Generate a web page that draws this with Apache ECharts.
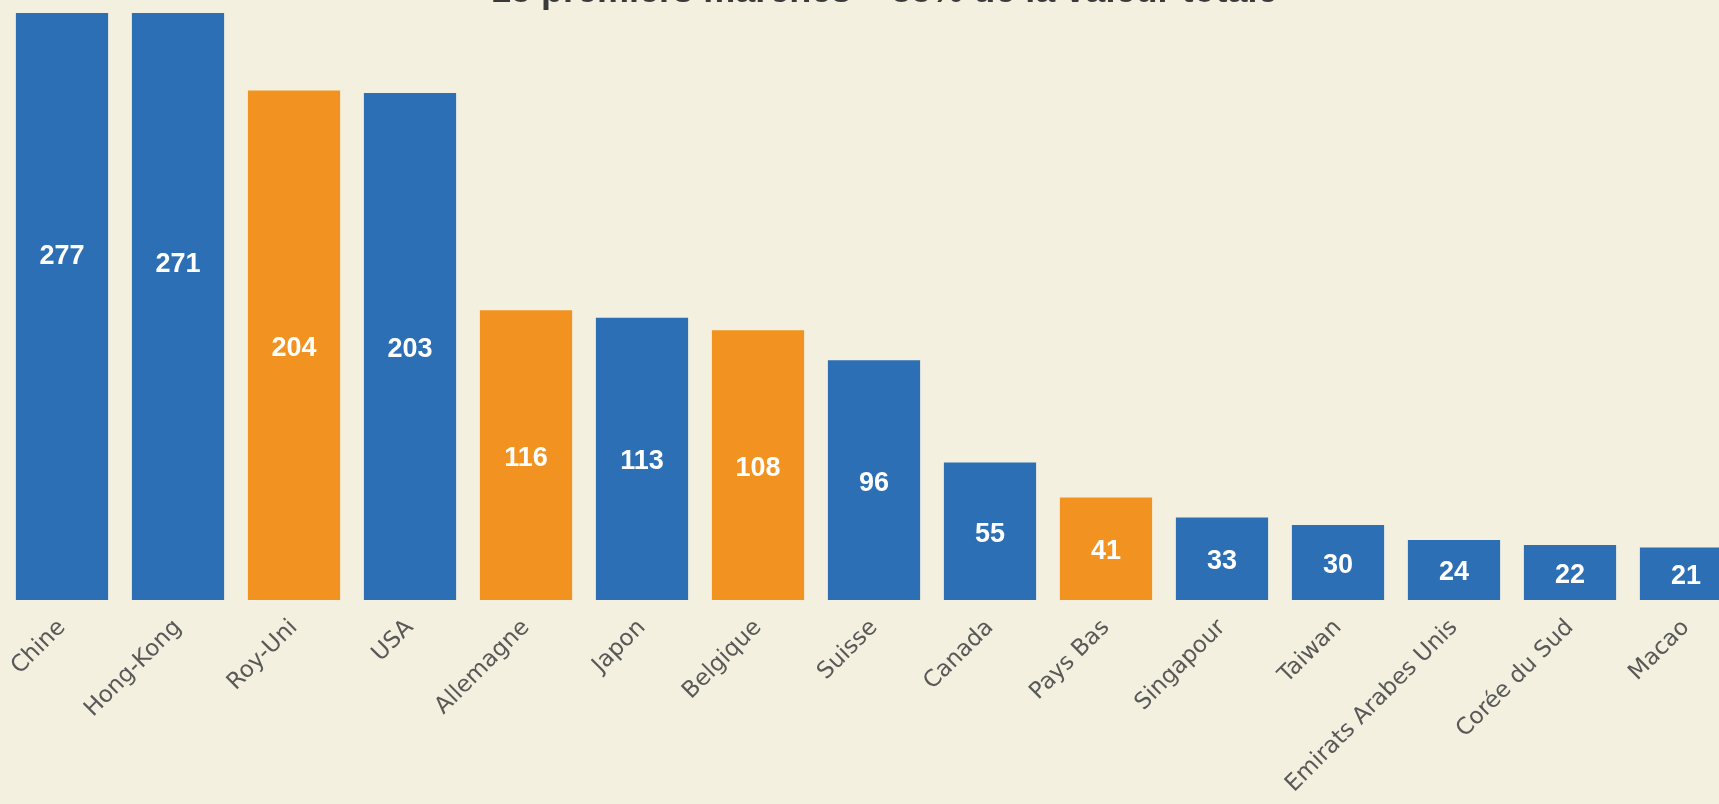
<!DOCTYPE html>
<html>
<head>
<meta charset="utf-8">
<title>15 premiers marchés</title>
<script src="https://cdn.jsdelivr.net/npm/echarts@6/dist/echarts.min.js"></script>
<style>
    html, body { margin: 0; padding: 0; background: #f3f0df; overflow: hidden; }
    #chart { width: 1719px; height: 804px; }
</style>
</head>
<body>
<div id="chart"></div>
<script>
var pays = ['Chine', 'Hong-Kong', 'Roy-Uni', 'USA', 'Allemagne', 'Japon', 'Belgique', 'Suisse', 'Canada', 'Pays Bas', 'Singapour', 'Taiwan', 'Emirats Arabes Unis', 'Corée du Sud', 'Macao'];
var valeurs = [277, 271, 204, 203, 116, 113, 108, 96, 55, 41, 33, 30, 24, 22, 21];
var paysEurope = ['Roy-Uni', 'Allemagne', 'Belgique', 'Pays Bas'];

var bleu = '#2c6fb5';
var orange = '#f29321';
var fond = '#f3f0df';

var myChart = echarts.init(document.getElementById('chart'));
var option = {
    backgroundColor: fond,
    animation: false,
    title: {
        text: '15 premiers marchés – 85% de la valeur totale',
        left: 486,
        top: -31,
        z: 200,
        textStyle: {
            fontFamily: 'Liberation Sans, Arial, sans-serif',
            fontSize: 36,
            lineHeight: 36,
            fontWeight: 'bold',
            color: '#3a3a3a'
        }
    },
    // bande de fond en haut : Chine et Hong-Kong dépassent et sont coupées sous le titre
    graphic: {
        elements: [{
            type: 'rect',
            z: 100,
            shape: { x: 0, y: 0, width: 1719, height: 13 },
            style: { fill: fond }
        }]
    },
    grid: {
        left: 4,
        right: -25,
        top: 13,
        bottom: 204,
        outerBoundsMode: 'none',
        containLabel: false
    },
    xAxis: {
        type: 'category',
        data: pays,
        axisLine: { show: false },
        axisTick: { show: false },
        axisLabel: {
            rotate: 45,
            margin: 24,
            interval: 0,
            color: '#585858',
            fontFamily: 'DejaVu Sans, sans-serif',
            fontSize: 23
        }
    },
    yAxis: {
        type: 'value',
        min: 0,
        max: 235,
        show: false,
        splitLine: { show: false }
    },
    series: [{
        type: 'bar',
        barCategoryGap: '20.5%',
        clip: false,
        data: valeurs.map(function (v, i) {
            return {
                value: v,
                itemStyle: { color: paysEurope.indexOf(pays[i]) >= 0 ? orange : bleu }
            };
        }),
        label: {
            show: true,
            position: 'inside',
            offset: [0, 3],
            color: '#fff',
            fontFamily: 'Liberation Sans, Arial, sans-serif',
            fontWeight: 'bold',
            fontSize: 27
        }
    }]
};
myChart.setOption(option);
</script>
</body>
</html>
